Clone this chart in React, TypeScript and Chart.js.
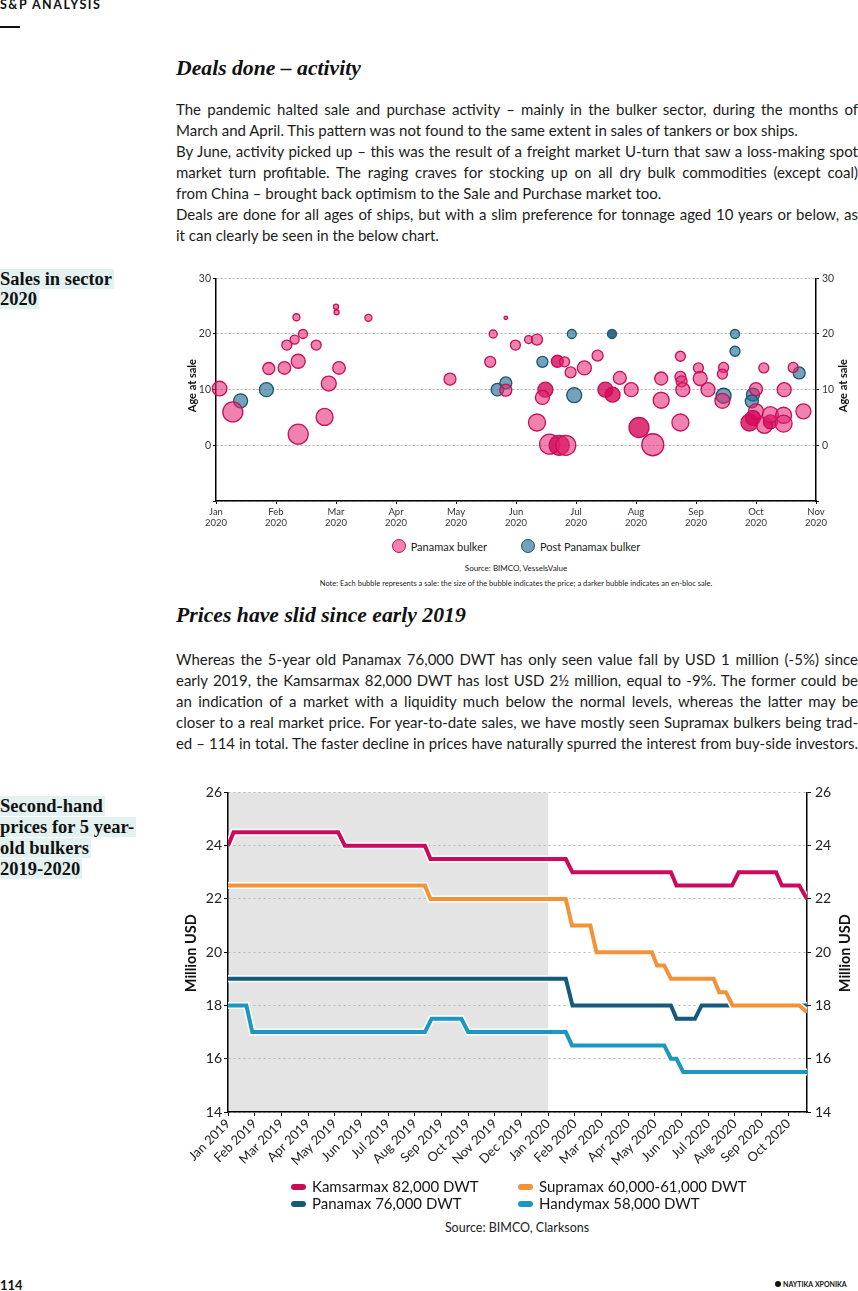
import React, { useEffect, useLayoutEffect, useRef } from 'react';
import { Chart, registerables } from 'chart.js';

Chart.register(...registerables);
Chart.defaults.font.family = 'Lato, sans-serif';

// ---------------- Bubble chart: Sales in sector 2020 ----------------
const saleMonthTicks: string[][] = [
  ['Jan', '2020'], ['Feb', '2020'], ['Mar', '2020'], ['Apr', '2020'], ['May', '2020'], ['Jun', '2020'],
  ['Jul', '2020'], ['Aug', '2020'], ['Sep', '2020'], ['Oct', '2020'], ['Nov', '2020'],
];

// month position (0 = 1 Jan 2020), age at sale (years), bubble size (price), en-bloc flag
const panamaxMonth = [
  0.06, 0.28, 0.88, 1.14, 1.18, 1.31, 1.34, 1.45, 1.37, 1.37, 1.67, 1.81, 1.88, 2.0, 2.01, 2.05, 2.54, 3.9,
  4.57, 4.62, 4.83, 4.83, 4.99, 5.21, 5.35, 5.49, 5.44, 5.35, 5.56, 5.72, 5.83, 5.69, 5.81, 5.91, 6.14, 6.36,
  6.49, 6.61, 6.73, 6.92, 7.05, 7.28, 7.42, 7.42, 7.74, 7.74, 7.76, 7.78, 7.74, 8.04, 8.07, 8.2, 8.46, 8.44,
  8.44, 8.89, 9.0, 9.0, 8.95, 9.13, 9.14, 9.24, 9.24, 9.47, 9.46, 9.46, 9.62, 9.79,
];
const panamaxAge = [
  10.2, 6.0, 13.8, 13.9, 18, 19, 23, 20, 15.1, 2.0, 18, 5.1, 11.1, 24.9, 23.9, 13.9, 22.9, 11.9,
  15, 20, 9.9, 22.9, 18, 19, 19, 10, 8.6, 4.1, 0.2, 0, 0, 15.1, 15, 13.1, 13.9, 16.1,
  10, 9.1, 12.1, 10, 3.2, 0.1, 12, 8.1, 16, 12.3, 11.5, 10, 4.1, 13.9, 12, 10, 14, 12.8,
  8, 4.1, 10.1, 6.1, 4.9, 13.9, 3.6, 4.2, 5.5, 10, 5.4, 3.9, 14, 6.1,
];
const panamaxSize = [
  7.3, 10, 6, 6.3, 5, 4.5, 3.5, 4.5, 7, 10, 5, 8.5, 7.5, 2.5, 2.5, 6.3, 3.5, 6,
  5.5, 4, 6, 1.8, 5, 4, 5.5, 7.5, 7, 8.5, 10, 10, 10, 6, 5, 5.5, 7, 5.5,
  7.5, 7.5, 6.5, 7, 10, 11, 6.5, 8, 5, 5.5, 5.5, 7, 8.5, 5, 7, 7, 5, 5,
  7.5, 8.5, 6.5, 7.5, 7.5, 5, 8, 7, 8, 7, 8, 8.5, 5, 7.5,
];
const panamaxEnBloc = [
  0, 0, 0, 0, 0, 0, 0, 0, 0, 0, 0, 0, 0, 0, 0, 0, 0, 0,
  0, 0, 0, 0, 0, 0, 0, 1, 0, 0, 0, 1, 0, 1, 0, 0, 0, 0,
  1, 1, 0, 0, 1, 0, 0, 0, 0, 0, 0, 0, 0, 0, 0, 0, 0, 0,
  0, 1, 0, 0, 1, 0, 0, 1, 0, 0, 0, 0, 0, 0,
];

const postPanamaxMonth = [0.41, 0.84, 4.69, 4.83, 5.44, 5.93, 5.97, 6.6, 8.46, 8.65, 8.65, 8.95, 8.93, 9.72];
const postPanamaxAge = [8.0, 10, 10, 11.2, 15, 20, 9, 20, 8.9, 20, 16.9, 9.1, 7.9, 13];
const postPanamaxSize = [7, 7, 6.3, 6, 5.5, 4.5, 7.5, 4.5, 7.5, 4.5, 5, 6.5, 6.5, 6];
const postPanamaxEnBloc = [0, 0, 0, 0, 0, 0, 0, 1, 0, 0, 0, 0, 0, 0];

const PINK_FILL = 'rgba(228, 40, 115, 0.58)';
const PINK_BLOC = 'rgba(214, 8, 88, 0.8)';
const PINK_BORDER = '#c70f58';
const TEAL_FILL = 'rgba(32, 105, 145, 0.62)';
const TEAL_BLOC = 'rgba(22, 82, 118, 0.85)';
const TEAL_BORDER = '#1a5570';

// ---------------- Line chart: Second-hand prices ----------------
const priceMonthLabels = [
  'Jan 2019', 'Feb 2019', 'Mar 2019', 'Apr 2019', 'May 2019', 'Jun 2019', 'Jul 2019', 'Aug 2019',
  'Sep 2019', 'Oct 2019', 'Nov 2019', 'Dec 2019', 'Jan 2020', 'Feb 2020', 'Mar 2020', 'Apr 2020',
  'May 2020', 'Jun 2020', 'Jul 2020', 'Aug 2020', 'Sep 2020', 'Oct 2020',
];
const priceTicks = [14, 16, 18, 20, 22, 24, 26];

const kamsarmaxX = [0, 0.21, 4.13, 4.38, 7.38, 7.59, 12.66, 12.91, 16.6, 16.81, 18.89, 19.14, 20.54, 20.76, 21.41, 21.7];
const kamsarmaxY = [24, 24.5, 24.5, 24, 24, 23.5, 23.5, 23, 23, 22.5, 22.5, 23, 23, 22.5, 22.5, 22];

const supramaxX = [0, 7.38, 7.59, 12.66, 12.89, 13.58, 13.81, 15.89, 16.08, 16.35, 16.6, 18.2, 18.41, 18.66, 18.91, 21.41, 21.7];
const supramaxY = [22.5, 22.5, 22, 22, 21, 21, 20, 20, 19.5, 19.5, 19, 19, 18.5, 18.5, 18, 18, 17.75];

const panamaxPriceX = [0, 12.66, 12.91, 16.6, 16.81, 17.5, 17.75, 21.7];
const panamaxPriceY = [19, 19, 18, 18, 17.5, 17.5, 18, 18];

const handymaxX = [0, 0.69, 0.91, 7.38, 7.63, 8.75, 9.0, 12.66, 12.89, 16.35, 16.6, 16.81, 17.06, 21.7];
const handymaxY = [18, 18, 17, 17, 17.5, 17.5, 17, 17, 16.5, 16.5, 16, 16, 15.5, 15.5];

const KAMSARMAX_COLOR = '#cc0a5c';
const SUPRAMAX_COLOR = '#f39236';
const PANAMAX_COLOR = '#155a7c';
const HANDYMAX_COLOR = '#1a98bf';

const priceSeries = [
  { label: 'Kamsarmax 82,000 DWT', xs: kamsarmaxX, ys: kamsarmaxY, color: KAMSARMAX_COLOR, order: 3 },
  { label: 'Supramax 60,000-61,000 DWT', xs: supramaxX, ys: supramaxY, color: SUPRAMAX_COLOR, order: 1 },
  { label: 'Panamax 76,000 DWT', xs: panamaxPriceX, ys: panamaxPriceY, color: PANAMAX_COLOR, order: 7 },
  { label: 'Handymax 58,000 DWT', xs: handymaxX, ys: handymaxY, color: HANDYMAX_COLOR, order: 5 },
];

// ---------------- Text ----------------
const para1 = [
  'The pandemic halted sale and purchase activity – mainly in the bulker sector, during the months of',
  'March and April. This pattern was not found to the same extent in sales of tankers or box ships.',
  'By June, activity picked up – this was the result of a freight market U-turn that saw a loss-making spot',
  'market turn profitable. The raging craves for stocking up on all dry bulk commodities (except coal)',
  'from China – brought back optimism to the Sale and Purchase market too.',
  'Deals are done for all ages of ships, but with a slim preference for tonnage aged 10 years or below, as',
  'it can clearly be seen in the below chart.',
];
const para1Ends = [1, 4, 6];
const para2 = [
  'Whereas the 5-year old Panamax 76,000 DWT has only seen value fall by USD 1 million (-5%) since',
  'early 2019, the Kamsarmax 82,000 DWT has lost USD 2½ million, equal to -9%. The former could be',
  'an indication of a market with a liquidity much below the normal levels, whereas the latter may be',
  'closer to a real market price. For year-to-date sales, we have mostly seen Supramax bulkers being trad-',
  'ed – 114 in total. The faster decline in prices have naturally spurred the interest from buy-side investors.',
];
const para2Ends: number[] = [];

// ---------------- Plugins ----------------
const sideTitlePlugin = {
  id: 'sideTitles',
  afterDraw(chart: any, _args: any, opts: any) {
    if (!opts || !opts.text) return;
    const { ctx, chartArea } = chart;
    ctx.save();
    ctx.font = `bold ${opts.size}px Lato, sans-serif`;
    ctx.fillStyle = '#111';
    ctx.textAlign = 'center';
    ctx.textBaseline = 'middle';
    const cy = (chartArea.top + chartArea.bottom) / 2 + (opts.dy || 0);
    [opts.left, chart.width - opts.right].forEach((x: number) => {
      ctx.save();
      ctx.translate(x, cy);
      ctx.rotate(-Math.PI / 2);
      ctx.fillText(opts.text, 0, 0);
      ctx.restore();
    });
    ctx.restore();
  },
};

const bandPlugin = {
  id: 'yearBand',
  beforeDraw(chart: any, _args: any, opts: any) {
    if (!opts || opts.from === undefined) return;
    const { ctx, chartArea, scales } = chart;
    const x0 = scales.x.getPixelForValue(opts.from);
    const x1 = scales.x.getPixelForValue(opts.to);
    ctx.save();
    ctx.fillStyle = opts.color;
    ctx.fillRect(x0, chartArea.top, x1 - x0, chartArea.bottom - chartArea.top);
    ctx.restore();
  },
};

function BubbleChart() {
  const ref = useRef<HTMLCanvasElement>(null);
  useEffect(() => {
    const ageTick = (v: any) => (v < 0 ? '' : String(v));
    const chart = new Chart(ref.current as HTMLCanvasElement, {
      type: 'bubble',
      data: {
        datasets: [
          {
            label: 'Panamax bulker',
            data: panamaxMonth.map((m, i) => ({ x: m, y: panamaxAge[i], r: panamaxSize[i] })),
            backgroundColor: panamaxEnBloc.map((b) => (b ? PINK_BLOC : PINK_FILL)),
            borderColor: PINK_BORDER,
            borderWidth: 1.3,
            clip: false as any,
          },
          {
            label: 'Post Panamax bulker',
            data: postPanamaxMonth.map((m, i) => ({ x: m, y: postPanamaxAge[i], r: postPanamaxSize[i] })),
            backgroundColor: postPanamaxEnBloc.map((b) => (b ? TEAL_BLOC : TEAL_FILL)),
            borderColor: TEAL_BORDER,
            borderWidth: 1.3,
            clip: false as any,
          },
        ],
      },
      options: {
        animation: false,
        responsive: false,
        layout: { padding: { top: 9, left: 0, right: 0, bottom: 0 } },
        plugins: {
          legend: { display: false },
          tooltip: { enabled: false },
          sideTitles: { text: 'Age at sale', size: 11, left: 12, right: 15, dy: -4 },
        } as any,
        scales: {
          x: {
            type: 'linear',
            min: 0,
            max: 10,
            ticks: {
              stepSize: 1,
              autoSkip: false,
              maxRotation: 0,
              padding: 2,
              color: '#333',
              font: { size: 9.5 },
              callback: (v: any) => saleMonthTicks[v] as any,
            },
            grid: { drawOnChartArea: false, tickLength: 3, tickColor: '#000' },
            border: { color: '#000', width: 1.5 },
            afterFit: (s: any) => { s.height = 29; },
          },
          y: {
            min: -10,
            max: 30,
            ticks: { stepSize: 10, padding: 2, color: '#333', font: { size: 10.5 }, callback: ageTick },
            grid: { color: '#b3b3b3', tickLength: 3, tickColor: '#000' },
            border: { color: '#000', width: 1.5, dash: [2, 2] },
            afterFit: (s: any) => { s.width = 36; },
          },
          y2: {
            position: 'right',
            min: -10,
            max: 30,
            ticks: { stepSize: 10, padding: 3, color: '#333', font: { size: 10.5 }, callback: ageTick },
            grid: { drawOnChartArea: false, tickLength: 3, tickColor: '#000' },
            border: { color: '#000', width: 1.5 },
            afterFit: (s: any) => { s.width = 42; },
          },
        } as any,
      },
      plugins: [sideTitlePlugin],
    });
    return () => chart.destroy();
  }, []);
  return (
    <canvas
      ref={ref}
      width={678}
      height={264}
      style={{ position: 'absolute', left: 180, top: 266, width: 678, height: 264 }}
    />
  );
}

function PriceChart() {
  const ref = useRef<HTMLCanvasElement>(null);
  useEffect(() => {
    const datasets: any[] = [];
    priceSeries.forEach((s) => {
      const pts = s.xs.map((x, i) => ({ x, y: s.ys[i] }));
      datasets.push({
        label: s.label + ' outline',
        data: pts,
        borderColor: '#ffffff',
        borderWidth: 7,
        pointRadius: 0,
        tension: 0,
        order: s.order + 0.5,
      });
      datasets.push({
        label: s.label,
        data: pts,
        borderColor: s.color,
        backgroundColor: s.color,
        borderWidth: 4,
        pointRadius: 0,
        tension: 0,
        order: s.order,
      });
    });
    const chart = new Chart(ref.current as HTMLCanvasElement, {
      type: 'line',
      data: { datasets },
      options: {
        animation: false,
        responsive: false,
        layout: { padding: { top: 11, left: 0, right: 0, bottom: 0 } },
        plugins: {
          legend: { display: false },
          tooltip: { enabled: false },
          sideTitles: { text: 'Million USD', size: 14.5, left: 11, right: 13, dy: 1 },
          yearBand: { from: 0, to: 12, color: '#e4e4e4' },
        } as any,
        scales: {
          x: {
            type: 'linear',
            min: 0,
            max: 21.7,
            ticks: {
              stepSize: 1,
              autoSkip: false,
              includeBounds: false,
              minRotation: 45,
              maxRotation: 45,
              padding: 0,
              color: '#222',
              font: { size: 13 },
              callback: (v: any) => priceMonthLabels[v],
            },
            grid: { drawOnChartArea: false, tickLength: 4, tickColor: '#000' },
            border: { color: '#000', width: 1.5 },
            afterFit: (s: any) => { s.height = 68; },
          },
          y: {
            min: priceTicks[0],
            max: priceTicks[priceTicks.length - 1],
            ticks: { stepSize: 2, padding: 2, color: '#222', font: { size: 14 } },
            grid: { color: '#b8b8b8', tickLength: 4, tickColor: '#000' },
            border: { color: '#000', width: 1.5, dash: [2, 3] },
            afterFit: (s: any) => { s.width = 48; },
          },
          y2: {
            position: 'right',
            min: priceTicks[0],
            max: priceTicks[priceTicks.length - 1],
            ticks: { stepSize: 2, padding: 4, color: '#222', font: { size: 14 } },
            grid: { drawOnChartArea: false, tickLength: 4, tickColor: '#000' },
            border: { color: '#000', width: 1.5 },
            afterFit: (s: any) => { s.width = 51; },
          },
        } as any,
      },
      plugins: [bandPlugin, sideTitlePlugin],
    });
    return () => chart.destroy();
  }, []);
  return (
    <canvas
      ref={ref}
      width={678}
      height={400}
      style={{ position: 'absolute', left: 180, top: 780, width: 678, height: 400 }}
    />
  );
}

function Para({ lines, ends, top }: { lines: string[]; ends: number[]; top: number }) {
  return (
    <div style={{ position: 'absolute', left: 176, top, width: 682, fontSize: 15, lineHeight: '21px', color: '#1c1c1c' }}>
      {lines.map((t, i) => {
        const end = ends.includes(i);
        return (
          <div
            key={i}
            className="jl"
            data-end={end ? '1' : '0'}
            style={{ whiteSpace: 'nowrap', textAlign: end ? 'left' : 'justify', textAlignLast: end ? 'left' : 'justify' } as any}
          >
            <span>{t}</span>
          </div>
        );
      })}
    </div>
  );
}

function SideLabel({ lines, top, lh }: { lines: string[]; top: number; lh: number }) {
  return (
    <div style={{ position: 'absolute', left: 0, top, width: 176, fontFamily: '"Liberation Serif", serif', fontWeight: 700, fontSize: 18.5, lineHeight: lh + 'px', color: '#111' }}>
      {lines.map((l, i) => (
        <div key={i} style={{ whiteSpace: 'nowrap' }}>
          <span style={{ background: '#e4f1f1', paddingRight: 2 }}>{l}</span>
        </div>
      ))}
    </div>
  );
}

const headingStyle: React.CSSProperties = {
  position: 'absolute',
  left: 176,
  fontFamily: '"Liberation Serif", serif',
  fontStyle: 'italic',
  fontWeight: 700,
  fontSize: 21.7,
  lineHeight: '26px',
  color: '#111',
  whiteSpace: 'nowrap',
};

export default function App() {
  const rootRef = useRef<HTMLDivElement>(null);

  useLayoutEffect(() => {
    const run = () => {
      const root = rootRef.current;
      if (!root) return;
      root.querySelectorAll('div.jl').forEach((el) => {
        const div = el as HTMLDivElement;
        const span = div.firstElementChild as HTMLSpanElement;
        const end = div.getAttribute('data-end') === '1';
        div.style.whiteSpace = 'nowrap';
        div.style.textAlignLast = 'left';
        div.style.textAlign = 'left';
        let ls = 0;
        span.style.letterSpacing = '0px';
        const target = div.clientWidth - 1;
        let guard = 0;
        while (span.getBoundingClientRect().width > target && guard < 80) {
          ls -= 0.05;
          span.style.letterSpacing = ls.toFixed(2) + 'px';
          guard++;
        }
        if (!end) {
          div.style.whiteSpace = 'normal';
          div.style.textAlign = 'justify';
          div.style.textAlignLast = 'justify';
        }
      });
    };
    run();
    if ((document as any).fonts && (document as any).fonts.ready) {
      (document as any).fonts.ready.then(run);
    }
  }, []);

  return (
    <div
      ref={rootRef}
      style={{ position: 'absolute', left: 0, top: 0, width: 858, height: 1291, overflow: 'hidden', background: '#fff', fontFamily: 'Lato, sans-serif', color: '#1b1b1b' }}
    >
      <div style={{ position: 'absolute', left: 0, top: -3, fontSize: 12.5, lineHeight: '15px', fontWeight: 700, letterSpacing: 1.5, color: '#111', whiteSpace: 'nowrap' }}>
        S&amp;P ANALYSIS
      </div>
      <div style={{ position: 'absolute', left: 0, top: 26, width: 20, height: 2, background: '#111' }} />

      <div style={{ ...headingStyle, top: 55 }}>Deals done – activity</div>
      <Para lines={para1} ends={para1Ends} top={99} />

      <SideLabel lines={['Sales in sector', '2020']} top={269} lh={20} />
      <BubbleChart />

      <div style={{ position: 'absolute', left: 216, top: 538, width: 600, height: 16, display: 'flex', justifyContent: 'center', alignItems: 'center', fontSize: 11, color: '#222' }}>
        <span style={{ display: 'inline-block', width: 12, height: 12, borderRadius: '50%', background: PINK_FILL, border: `1.5px solid ${PINK_BORDER}`, marginRight: 5 }} />
        <span style={{ marginRight: 34 }}>Panamax bulker</span>
        <span style={{ display: 'inline-block', width: 12, height: 12, borderRadius: '50%', background: TEAL_FILL, border: `1.5px solid ${TEAL_BORDER}`, marginRight: 5 }} />
        <span>Post Panamax bulker</span>
      </div>
      <div style={{ position: 'absolute', left: 216, top: 562, width: 600, textAlign: 'center', fontSize: 8, lineHeight: '12px', color: '#222' }}>
        Source: BIMCO, VesselsValue
      </div>
      <div style={{ position: 'absolute', left: 216, top: 578, width: 600, textAlign: 'center', fontSize: 7.5, lineHeight: '12px', color: '#222' }}>
        Note: Each bubble represents a sale: the size of the bubble indicates the price; a darker bubble indicates an en-bloc sale.
      </div>

      <div style={{ ...headingStyle, top: 602 }}>Prices have slid since early 2019</div>
      <Para lines={para2} ends={para2Ends} top={649} />

      <SideLabel lines={['Second-hand', 'prices for 5 year-', 'old bulkers', '2019-2020']} top={796} lh={21} />
      <PriceChart />

      <div style={{ position: 'absolute', left: 291, top: 1178, width: 540, fontSize: 15, lineHeight: '17px', color: '#151515' }}>
        {[0, 2].map((row) => (
          <div key={row} style={{ display: 'flex', whiteSpace: 'nowrap' }}>
            {[priceSeries[row], priceSeries[row + 1]].map((s, j) => (
              <div key={s.label} style={{ width: j === 0 ? 227 : 300, flex: 'none', display: 'flex', alignItems: 'center' }}>
                <span style={{ display: 'inline-block', width: 15, height: 6, borderRadius: 3, background: s.color, marginRight: 6, flex: 'none' }} />
                <span>{s.label}</span>
              </div>
            ))}
          </div>
        ))}
      </div>
      <div style={{ position: 'absolute', left: 180, top: 1220, width: 674, textAlign: 'center', fontSize: 12.5, lineHeight: '16px', color: '#222' }}>
        Source: BIMCO, Clarksons
      </div>

      <div style={{ position: 'absolute', left: 0, top: 1277, fontSize: 13, lineHeight: '16px', fontWeight: 700, color: '#111' }}>114</div>
      <div style={{ position: 'absolute', left: 775, top: 1280, display: 'flex', alignItems: 'center', fontSize: 7, fontWeight: 700, color: '#111', fontFamily: 'Lato, "DejaVu Sans", sans-serif' }}>
        <span style={{ display: 'inline-block', width: 6, height: 6, borderRadius: '50%', background: '#111', marginRight: 2 }} />
        <span>ΝΑΥΤΙΚΑ ΧΡΟΝΙΚΑ</span>
      </div>
    </div>
  );
}
